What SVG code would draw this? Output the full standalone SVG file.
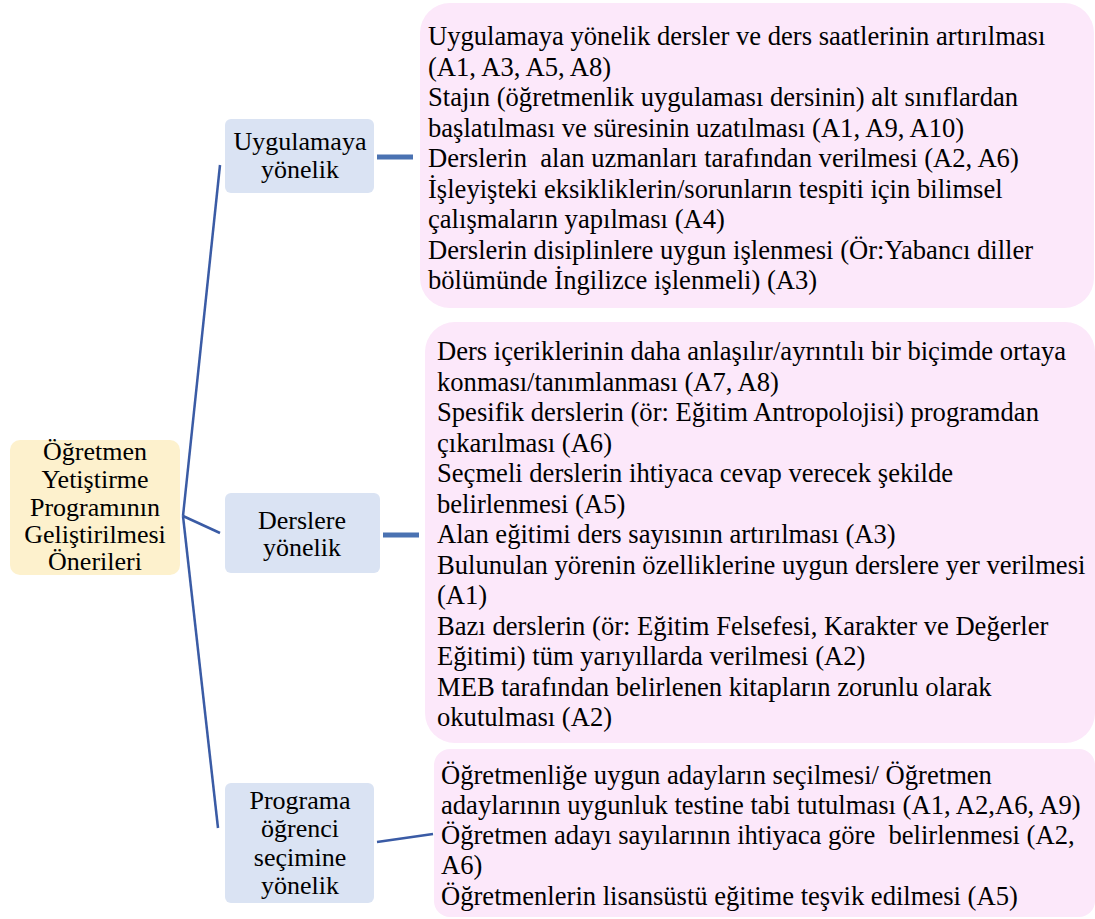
<svg xmlns="http://www.w3.org/2000/svg" width="1095" height="919" viewBox="0 0 1095 919">
<style>
.root{fill:#FDF1CD}
.cat{fill:#DAE3F3}
.leaf{fill:#FCE8FA}
.conn{stroke:#3A5BA5;stroke-width:2.5;fill:none}
.thick{stroke:#4A72B2;stroke-width:5;fill:none}
</style>
<rect width="1095" height="919" fill="#fff"/>
<g id="connectors">
<line class="conn" x1="183" y1="516" x2="220" y2="165"/>
<line class="conn" x1="183" y1="516" x2="220" y2="533"/>
<line class="conn" x1="183" y1="516" x2="218" y2="828"/>
<line class="thick" x1="377" y1="157" x2="413" y2="157"/>
<line class="thick" x1="383" y1="535" x2="419" y2="535"/>
<line class="conn" x1="377" y1="842" x2="433" y2="834"/>
</g>
<g id="root">
<rect class="root" x="10" y="440" width="170" height="135" rx="10"/>
<text x="95" y="460" text-anchor="middle" font-family="Liberation Serif" font-size="26">Öğretmen</text>
<text x="95" y="488" text-anchor="middle" font-family="Liberation Serif" font-size="26">Yetiştirme</text>
<text x="95" y="516" text-anchor="middle" font-family="Liberation Serif" font-size="26">Programının</text>
<text x="95" y="543" text-anchor="middle" font-family="Liberation Serif" font-size="26">Geliştirilmesi</text>
<text x="95" y="570" text-anchor="middle" font-family="Liberation Serif" font-size="26">Önerileri</text>
</g>
<g id="cat1">
<rect class="cat" x="225" y="119" width="149" height="74" rx="6"/>
<text x="300" y="150" text-anchor="middle" font-family="Liberation Serif" font-size="26">Uygulamaya</text>
<text x="300" y="178" text-anchor="middle" font-family="Liberation Serif" font-size="26">yönelik</text>
</g>
<g id="cat2">
<rect class="cat" x="225" y="493" width="155" height="80" rx="6"/>
<text x="302" y="529" text-anchor="middle" font-family="Liberation Serif" font-size="26">Derslere</text>
<text x="302" y="556" text-anchor="middle" font-family="Liberation Serif" font-size="26">yönelik</text>
</g>
<g id="cat3">
<rect class="cat" x="225" y="783" width="149" height="120" rx="6"/>
<text x="300" y="809" text-anchor="middle" font-family="Liberation Serif" font-size="26">Programa</text>
<text x="300" y="837" text-anchor="middle" font-family="Liberation Serif" font-size="26">öğrenci</text>
<text x="300" y="866" text-anchor="middle" font-family="Liberation Serif" font-size="26">seçimine</text>
<text x="300" y="894" text-anchor="middle" font-family="Liberation Serif" font-size="26">yönelik</text>
</g>
<g id="leaf1">
<rect class="leaf" x="420" y="3" width="674" height="305" rx="30"/>
<text x="428" y="45" font-family="Liberation Serif" font-size="26.6">Uygulamaya yönelik dersler ve ders saatlerinin artırılması</text>
<text x="428" y="75.5" font-family="Liberation Serif" font-size="26.6">(A1, A3, A5, A8)</text>
<text x="428" y="106" font-family="Liberation Serif" font-size="26.6">Stajın (öğretmenlik uygulaması dersinin) alt sınıflardan</text>
<text x="428" y="136.5" font-family="Liberation Serif" font-size="26.6">başlatılması ve süresinin uzatılması (A1, A9, A10)</text>
<text x="428" y="167" font-family="Liberation Serif" font-size="26.6" xml:space="preserve">Derslerin  alan uzmanları tarafından verilmesi (A2, A6)</text>
<text x="428" y="197.5" font-family="Liberation Serif" font-size="26.6">İşleyişteki eksikliklerin/sorunların tespiti için bilimsel</text>
<text x="428" y="228" font-family="Liberation Serif" font-size="26.6">çalışmaların yapılması (A4)</text>
<text x="428" y="258.5" font-family="Liberation Serif" font-size="26.6">Derslerin disiplinlere uygun işlenmesi (Ör:Yabancı diller</text>
<text x="428" y="289" font-family="Liberation Serif" font-size="26.6">bölümünde İngilizce işlenmeli) (A3)</text>
</g>
<g id="leaf2">
<rect class="leaf" x="425" y="322" width="670" height="421" rx="30"/>
<text x="437" y="360" font-family="Liberation Serif" font-size="26.6">Ders içeriklerinin daha anlaşılır/ayrıntılı bir biçimde ortaya</text>
<text x="437" y="390.5" font-family="Liberation Serif" font-size="26.6">konması/tanımlanması (A7, A8)</text>
<text x="437" y="421" font-family="Liberation Serif" font-size="26.6">Spesifik derslerin (ör: Eğitim Antropolojisi) programdan</text>
<text x="437" y="451.5" font-family="Liberation Serif" font-size="26.6">çıkarılması (A6)</text>
<text x="437" y="482" font-family="Liberation Serif" font-size="26.6">Seçmeli derslerin ihtiyaca cevap verecek şekilde</text>
<text x="437" y="512.5" font-family="Liberation Serif" font-size="26.6">belirlenmesi (A5)</text>
<text x="437" y="543" font-family="Liberation Serif" font-size="26.6">Alan eğitimi ders sayısının artırılması (A3)</text>
<text x="437" y="573.5" font-family="Liberation Serif" font-size="26.6">Bulunulan yörenin özelliklerine uygun derslere yer verilmesi</text>
<text x="437" y="604" font-family="Liberation Serif" font-size="26.6">(A1)</text>
<text x="437" y="634.5" font-family="Liberation Serif" font-size="26.6">Bazı derslerin (ör: Eğitim Felsefesi, Karakter ve Değerler</text>
<text x="437" y="665" font-family="Liberation Serif" font-size="26.6">Eğitimi) tüm yarıyıllarda verilmesi (A2)</text>
<text x="437" y="695.5" font-family="Liberation Serif" font-size="26.6">MEB tarafından belirlenen kitapların zorunlu olarak</text>
<text x="437" y="726" font-family="Liberation Serif" font-size="26.6">okutulması (A2)</text>
</g>
<g id="leaf3">
<rect class="leaf" x="434" y="749" width="661" height="168" rx="16"/>
<text x="441" y="784" font-family="Liberation Serif" font-size="26.6">Öğretmenliğe uygun adayların seçilmesi/ Öğretmen</text>
<text x="441" y="814" font-family="Liberation Serif" font-size="26.6">adaylarının uygunluk testine tabi tutulması (A1, A2,A6, A9)</text>
<text x="441" y="844" font-family="Liberation Serif" font-size="26.6" xml:space="preserve">Öğretmen adayı sayılarının ihtiyaca göre  belirlenmesi (A2,</text>
<text x="441" y="874" font-family="Liberation Serif" font-size="26.6">A6)</text>
<text x="441" y="905" font-family="Liberation Serif" font-size="26.6">Öğretmenlerin lisansüstü eğitime teşvik edilmesi (A5)</text>
</g>
</svg>
